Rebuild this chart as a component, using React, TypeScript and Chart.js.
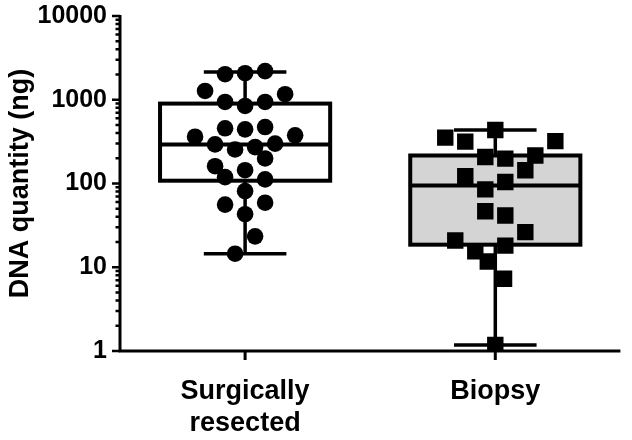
import { useEffect, useRef } from "react";
import { Chart, registerables } from "chart.js";
Chart.register(...registerables);

const categories: string[][] = [["Surgically", "resected"], ["Biopsy"]];
const yTickValues = [1, 10, 100, 1000, 10000];
const minorTickMultipliers = [2, 3, 4, 5, 6, 7, 8, 9];

const resectedValues = [2020, 2075, 2195, 1274, 1164, 941, 843, 941, 456, 443, 472, 362, 376, 293, 255, 272, 299, 199, 161, 144, 119, 112, 81, 56, 59, 43, 23.4, 14.5];
const resectedJitter = [-0.08, 0, 0.08, -0.16, 0.16, -0.08, 0, 0.08, -0.08, 0, 0.08, -0.2, 0.2, -0.12, -0.04, 0.04, 0.12, 0.08, -0.12, 0, -0.08, 0.08, 0, -0.08, 0.08, 0, 0.04, -0.04];
const biopsyValues = [435, 353, 316, 321, 207, 198, 216, 144, 122, 104, 85, 46.6, 41.4, 26.3, 20.9, 15.5, 18.1, 11.7, 7.3, 1.18];
const biopsyJitter = [0, -0.2, -0.12, 0.24, -0.04, 0.04, 0.16, 0.12, -0.12, 0.04, -0.04, -0.04, 0.04, 0.12, -0.16, -0.08, 0.04, -0.03, 0.035, 0];

// [min, q1, median, q3, max]
const resectedBox = [14.5, 108, 293, 900, 2150];
const biopsyBox = [1.18, 18.6, 94.6, 216, 435];

const boxFills = ["#ffffff", "#d4d4d4"];
const FONT = "'Liberation Sans', Arial, Helvetica, sans-serif";

const boxPlugin = {
  id: "boxPlot",
  beforeDatasetsDraw(chart: any) {
    const { ctx, chartArea, scales } = chart;
    const xs = scales.x;
    const ys = scales.y;
    const unit = xs.getPixelForValue(2) - xs.getPixelForValue(1);
    ctx.save();
    // axes
    ctx.strokeStyle = "#000";
    ctx.lineCap = "butt";
    ctx.lineWidth = 3;
    ctx.beginPath();
    ctx.moveTo(chartArea.left, chartArea.top - 1);
    ctx.lineTo(chartArea.left, chartArea.bottom + 1.5);
    ctx.moveTo(chartArea.left - 1.5, chartArea.bottom);
    ctx.lineTo(chartArea.right, chartArea.bottom);
    ctx.stroke();
    // y ticks
    ctx.lineWidth = 2.5;
    ctx.beginPath();
    yTickValues.forEach((v, i) => {
      const py = ys.getPixelForValue(v);
      ctx.moveTo(chartArea.left - 8, py);
      ctx.lineTo(chartArea.left, py);
      if (i < yTickValues.length - 1) {
        minorTickMultipliers.forEach((m) => {
          const my = ys.getPixelForValue(v * m);
          ctx.moveTo(chartArea.left - 4.5, my);
          ctx.lineTo(chartArea.left, my);
        });
      }
    });
    ctx.stroke();
    // x ticks
    ctx.lineWidth = 3;
    ctx.beginPath();
    categories.forEach((_, i) => {
      const px = xs.getPixelForValue(i + 1);
      ctx.moveTo(px, chartArea.bottom);
      ctx.lineTo(px, chartArea.bottom + 9);
    });
    ctx.stroke();
    // boxes
    [resectedBox, biopsyBox].forEach((b, i) => {
      const cx = xs.getPixelForValue(i + 1);
      const half = unit * 0.34;
      const cap = unit * 0.165;
      const [mn, q1, md, q3, mx] = b.map((v) => ys.getPixelForValue(v));
      ctx.lineWidth = 3.5;
      ctx.beginPath();
      ctx.moveTo(cx, mn);
      ctx.lineTo(cx, q1);
      ctx.moveTo(cx, q3);
      ctx.lineTo(cx, mx);
      ctx.moveTo(cx - cap, mn);
      ctx.lineTo(cx + cap, mn);
      ctx.moveTo(cx - cap, mx);
      ctx.lineTo(cx + cap, mx);
      ctx.stroke();
      ctx.fillStyle = boxFills[i];
      ctx.fillRect(cx - half, q3, half * 2, q1 - q3);
      ctx.lineWidth = 4;
      ctx.strokeRect(cx - half, q3, half * 2, q1 - q3);
      ctx.beginPath();
      ctx.moveTo(cx - half, md);
      ctx.lineTo(cx + half, md);
      ctx.stroke();
    });
    ctx.restore();
  },
};

export default function App() {
  const ref = useRef<HTMLCanvasElement>(null);
  useEffect(() => {
    if (!ref.current) return;
    const chart = new Chart(ref.current, {
      type: "scatter",
      data: {
        datasets: [
          {
            data: resectedValues.map((v, i) => ({ x: 1 + resectedJitter[i], y: v })),
            pointStyle: "circle",
            pointRadius: 8.3,
            backgroundColor: "#000",
            borderColor: "#000",
            borderWidth: 0,
          },
          {
            data: biopsyValues.map((v, i) => ({ x: 2 + biopsyJitter[i], y: v })),
            pointStyle: "rect",
            pointRadius: 11.6,
            backgroundColor: "#000",
            borderColor: "#000",
            borderWidth: 0,
          },
        ],
      },
      options: {
        animation: false,
        responsive: false,
        layout: { padding: { top: 16, right: 10, left: 0, bottom: 0 } },
        plugins: { legend: { display: false }, tooltip: { enabled: false } },
        scales: {
          x: {
            type: "linear",
            min: 0.5,
            max: 2.5,
            grid: { display: false, drawTicks: false },
            border: { display: false },
            afterBuildTicks: (s: any) => {
              s.ticks = categories.map((_, i) => ({ value: i + 1 }));
            },
            ticks: {
              callback: (v: any) => categories[Number(v) - 1] as any,
              font: { family: FONT, size: 27, weight: "bold", lineHeight: 1.2 },
              color: "#000",
              padding: 24,
              maxRotation: 0,
              autoSkip: false,
            },
            afterFit: (s: any) => {
              s.height = 89;
              s.paddingLeft = 0;
              s.paddingRight = 0;
            },
          },
          y: {
            type: "logarithmic",
            min: 1,
            max: 10000,
            grid: { display: false, drawTicks: false },
            border: { display: false },
            afterBuildTicks: (s: any) => {
              s.ticks = yTickValues.map((v) => ({ value: v }));
            },
            ticks: {
              callback: (v: any) => String(v),
              font: { family: FONT, size: 25, weight: "bold" },
              color: "#000",
              padding: 13,
              autoSkip: false,
            },
            title: {
              display: true,
              text: "DNA quantity (ng)",
              font: { family: FONT, size: 27, weight: "bold" },
              color: "#000",
              padding: { top: 4, bottom: 0 },
            },
            afterFit: (s: any) => {
              s.width = 120;
              s.paddingTop = 0;
              s.paddingBottom = 0;
            },
          },
        },
      },
      plugins: [boxPlugin],
    });
    return () => chart.destroy();
  }, []);
  return (
    <div style={{ position: "absolute", left: 0, top: 0 }}>
      <canvas ref={ref} width={632} height={440} style={{ display: "block", width: 632, height: 440 }} />
    </div>
  );
}
